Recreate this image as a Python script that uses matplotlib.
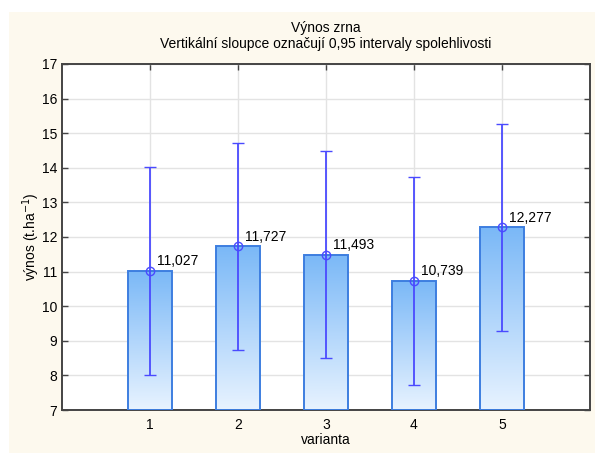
import numpy as np
import matplotlib.pyplot as plt
from matplotlib.colors import LinearSegmentedColormap
from matplotlib.patches import Rectangle

plt.rcParams['font.family'] = ['Liberation Sans', 'DejaVu Sans']

# průměrný výnos a 95% intervaly spolehlivosti
varianta = [1, 2, 3, 4, 5]
vynos = [11.027, 11.727, 11.493, 10.739, 12.277]
ci_dolni = [8.02, 8.72, 8.49, 7.73, 9.27]
ci_horni = [14.03, 14.73, 14.49, 13.74, 15.28]

fig = plt.figure(figsize=(5.95, 4.53), dpi=100)
fig.patch.set_facecolor('white')
# krémové pozadí grafu
fig.patches.append(Rectangle((9 / 595, 0), 1, 1 - 12 / 453, transform=fig.transFigure,
                             facecolor='#fdf9ee', edgecolor='none', zorder=-10))

ax = fig.add_axes([62 / 595, 1 - 410 / 453, 528 / 595, 346 / 453])
ax.set_facecolor('white')

ax.grid(True, color='#e3e3e3', linewidth=1.0, zorder=0)
ax.set_axisbelow(True)

grad = LinearSegmentedColormap.from_list('modra', ['#e8f3ff', '#7ab8f7'])
sirka = 0.5
for x, y in zip(varianta, vynos):
    bar = ax.bar(x, y - 7, width=sirka, bottom=7, facecolor='none',
                 edgecolor='#3d7ee0', linewidth=1.4, zorder=3)[0]
    img = ax.imshow(np.linspace(0, 1, 256).reshape(-1, 1), cmap=grad, aspect='auto',
                    origin='lower', extent=[x - sirka / 2, x + sirka / 2, 7, y], zorder=2)
    img.set_clip_path(bar)

ax.set_xlim(0, 6)
ax.set_ylim(7, 17)

vynos_arr = np.array(vynos)
chyby = [vynos_arr - np.array(ci_dolni), np.array(ci_horni) - vynos_arr]
ax.errorbar(varianta, vynos, yerr=chyby, fmt='o', color='#4a4aff', ecolor='#4a4aff',
            elinewidth=1.3, capsize=4.5, capthick=1.3, markersize=6,
            markerfacecolor='none', markeredgewidth=1.0, zorder=4)

for x, y in zip(varianta, vynos):
    ax.annotate(f'{y:.3f}'.replace('.', ','), (x, y), xytext=(5, 2),
                textcoords='offset points', fontsize=10, ha='left', va='bottom', zorder=5)

ax.set_xticks(varianta)
ax.set_yticks(range(7, 18))
ax.tick_params(direction='in', top=True, right=True, length=4, width=1,
               color='#444444', labelsize=10)
ax.tick_params(axis='y', pad=3.5)
ax.tick_params(axis='x', pad=6)
for strana in ['left', 'bottom', 'right', 'top']:
    ax.spines[strana].set_color('#444444')
    ax.spines[strana].set_linewidth(1.4)

ax.set_xlabel('varianta', fontsize=10)
ax.set_ylabel('výnos (t.ha$^{-1}$)', fontsize=10)
ax.xaxis.set_label_coords(0.5, -0.087, transform=ax.transAxes)
ax.yaxis.set_label_coords(-0.058, 0.5, transform=ax.transAxes)
ax.xaxis.label.set_va('center')
ax.yaxis.label.set_va('center')

fig.text(326 / 595, 1 - 28 / 453, 'Výnos zrna', ha='center', va='center', fontsize=10)
fig.text(326 / 595, 1 - 44 / 453, 'Vertikální sloupce označují 0,95 intervaly spolehlivosti',
         ha='center', va='center', fontsize=10)

fig.savefig('out.png', dpi=100, facecolor=fig.get_facecolor())
